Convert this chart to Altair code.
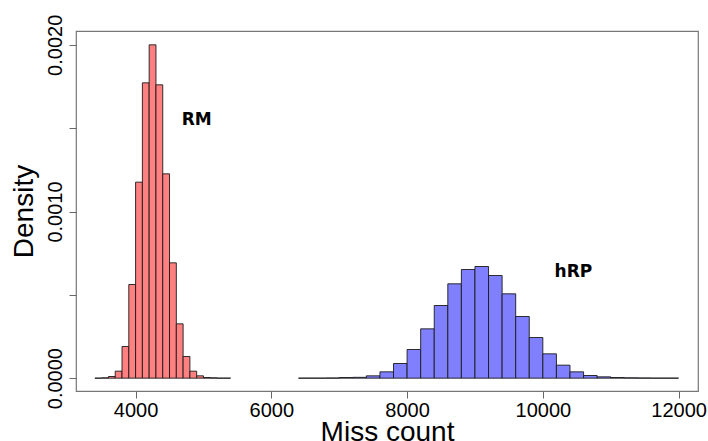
import altair as alt
import pandas as pd

# ---- data ----
red_bin_start = [3400, 3500, 3600, 3700, 3800, 3900, 4000, 4100, 4200, 4300,
                 4400, 4500, 4600, 4700, 4800, 4900, 5000, 5100, 5200, 5300]
red_bin_end = [3500, 3600, 3700, 3800, 3900, 4000, 4100, 4200, 4300, 4400,
               4500, 4600, 4700, 4800, 4900, 5000, 5100, 5200, 5300, 5400]
red_density = [0.0, 0.000002, 0.00001, 0.000042, 0.00019, 0.000562, 0.001176,
               0.001772, 0.002, 0.00176, 0.001226, 0.000692, 0.000326, 0.00013,
               0.000042, 0.000014, 0.000004, 0.000002, 0.0, 0.0]

blue_bin_start = [6400, 6600, 6800, 7000, 7200, 7400, 7600, 7800, 8000, 8200,
                  8400, 8600, 8800, 9000, 9200, 9400, 9600, 9800, 10000, 10200,
                  10400, 10600, 10800, 11000, 11200, 11400, 11600, 11800]
blue_bin_end = [6600, 6800, 7000, 7200, 7400, 7600, 7800, 8000, 8200, 8400,
                8600, 8800, 9000, 9200, 9400, 9600, 9800, 10000, 10200, 10400,
                10600, 10800, 11000, 11200, 11400, 11600, 11800, 12000]
blue_density = [0.0, 0.0, 0.000001, 0.000004, 0.000005, 0.000014, 0.000038,
                0.000088, 0.000172, 0.000296, 0.000436, 0.000566, 0.000652,
                0.00067, 0.000616, 0.000506, 0.00037, 0.000244, 0.000146,
                0.000078, 0.000038, 0.000016, 0.000008, 0.000004, 0.000002,
                0.000001, 0.0, 0.0]

label_text = ["RM", "hRP"]
label_x = [4900, 10450]
label_y = [0.00155, 0.00064]

x_ticks = [4000, 6000, 8000, 10000, 12000]
y_ticks = [0.0, 0.0005, 0.001, 0.0015, 0.002]

# ---- build tables ----
red_df = pd.DataFrame({"start": red_bin_start, "end": red_bin_end,
                       "density": red_density, "zero": 0.0})
blue_df = pd.DataFrame({"start": blue_bin_start, "end": blue_bin_end,
                        "density": blue_density, "zero": 0.0})
lab_df = pd.DataFrame({"text": label_text, "x": label_x, "y": label_y})

xscale = alt.Scale(domain=[3122, 12286], nice=False, zero=False)
yscale = alt.Scale(domain=[-0.000077, 0.002083], nice=False, zero=False)

xaxis = alt.Axis(values=x_ticks, format="d", title="Miss count", grid=False,
                 domain=False, tickSize=7, tickColor="#666666", labelFontSize=20,
                 labelFont="Liberation Sans", labelColor="black", labelPadding=2,
                 labelOverlap=False,
                 titleFont="Liberation Sans", titleFontSize=28,
                 titleFontWeight="normal", titleColor="black",
                 titleBaseline="alphabetic", titleY=49)
yaxis = alt.Axis(values=y_ticks, title="Density", grid=False, domain=False,
                 tickSize=7, tickColor="#666666", labelFontSize=20,
                 labelFont="Liberation Sans", labelColor="black",
                 labelAngle=270, labelAlign="center", labelBaseline="bottom",
                 labelPadding=4, labelOverlap=False,
                 labelExpr="(datum.value == 0 || datum.value == 0.001 || datum.value == 0.002) ? format(datum.value, '.4f') : ''",
                 titleFont="Liberation Sans", titleFontSize=28,
                 titleFontWeight="normal", titleColor="black",
                 titleAngle=270, titleAlign="center", titleBaseline="alphabetic",
                 titleX=-44, titleY=180)

red = alt.Chart(red_df).mark_rect(fill="#FF8080", stroke="#1a1a1a",
                                  strokeWidth=0.9).encode(
    x=alt.X("start:Q", scale=xscale, axis=xaxis),
    x2="end:Q",
    y=alt.Y("density:Q", scale=yscale, axis=yaxis),
    y2="zero:Q",
)
blue = alt.Chart(blue_df).mark_rect(fill="#8080FF", stroke="#1a1a1a",
                                    strokeWidth=0.9).encode(
    x=alt.X("start:Q", scale=xscale),
    x2="end:Q",
    y=alt.Y("density:Q", scale=yscale),
    y2="zero:Q",
)
labels = alt.Chart(lab_df).mark_text(font="DejaVu Sans", fontWeight="bold",
                                     fontSize=17, color="black",
                                     align="center", baseline="middle").encode(
    x=alt.X("x:Q", scale=xscale),
    y=alt.Y("y:Q", scale=yscale),
    text="text:N",
)

chart = alt.layer(red, blue, labels).properties(
    width=622, height=360,
    autosize=alt.AutoSizeParams(type="none"),
    padding={"left": 76, "top": 31, "right": 10, "bottom": 50},
    background="white",
).configure_view(stroke="#777777", strokeWidth=1.2)

chart.save("out.html", embed_options={"renderer": "svg", "actions": False})
